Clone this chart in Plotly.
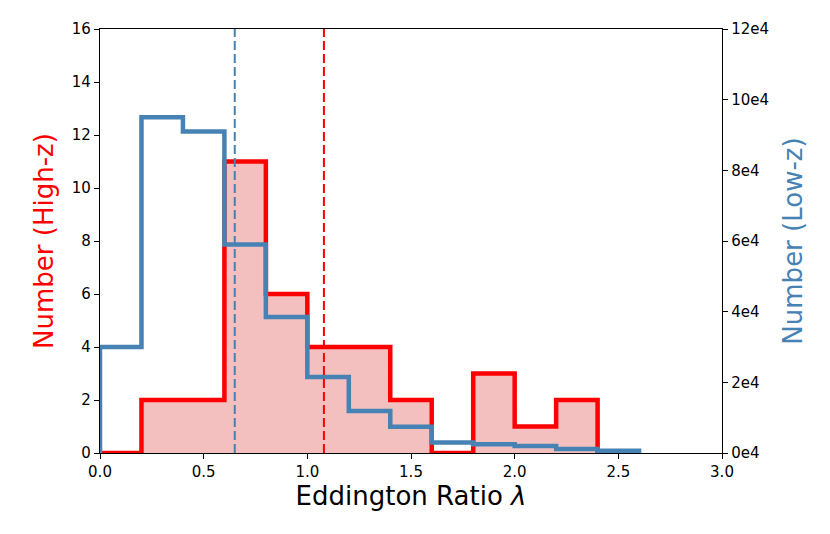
import plotly.graph_objects as go

# Bin edges (Eddington ratio)
edges_high = [0.0, 0.2, 0.4, 0.6, 0.8, 1.0, 1.2, 1.4, 1.6, 1.8, 2.0, 2.2, 2.4]
counts_high = [0, 2, 2, 11, 6, 4, 4, 2, 0, 3, 1, 2]

edges_low = [0.0, 0.2, 0.4, 0.6, 0.8, 1.0, 1.2, 1.4, 1.6, 1.8, 2.0, 2.2, 2.4, 2.6]
counts_low = [30000, 95000, 91000, 59000, 38500, 21500, 11900, 7400, 3000, 2450, 1970, 1120, 650]

mean_low = 0.65
mean_high = 1.08

y_left_ticks = [0, 2, 4, 6, 8, 10, 12, 14, 16]
y_right_tickvals = [0, 20000, 40000, 60000, 80000, 100000, 120000]
y_right_ticktext = ["0e4", "2e4", "4e4", "6e4", "8e4", "10e4", "12e4"]
x_ticks = [0.0, 0.5, 1.0, 1.5, 2.0, 2.5, 3.0]
x_ticktext = ["0.0", "0.5", "1.0", "1.5", "2.0", "2.5", "3.0"]

RED = "#ff0000"
BLUE = "#4682b4"
FONT = "DejaVu Sans"

# step outlines (hv): start at 0, end back at 0
xh = [edges_high[0]] + list(edges_high)
yh = [0] + list(counts_high) + [0]
xl = [edges_low[0]] + list(edges_low)
yl = [0] + list(counts_low) + [0]

fig = go.Figure()
fig.add_trace(go.Scatter(
    x=xh, y=yh, mode="lines", line=dict(shape="hv", color=RED, width=4.5),
    fill="tozeroy", fillcolor="rgba(240,170,170,0.75)", yaxis="y", hoverinfo="skip",
    showlegend=False))
fig.add_trace(go.Scatter(
    x=xl, y=yl, mode="lines", line=dict(shape="hv", color=BLUE, width=4.5),
    yaxis="y2", hoverinfo="skip", showlegend=False))

fig.add_shape(type="line", xref="x", yref="paper", x0=mean_low, x1=mean_low, y0=0, y1=1,
              line=dict(color=BLUE, width=2, dash="9px,4px"), layer="above")
fig.add_shape(type="line", xref="x", yref="paper", x0=mean_high, x1=mean_high, y0=0, y1=1,
              line=dict(color=RED, width=2, dash="9px,4px"), layer="above")

tickfont = dict(family=FONT, size=15, color="black")
fig.update_layout(
    width=822, height=526,
    margin=dict(l=92, r=108, t=18, b=81),
    paper_bgcolor="white", plot_bgcolor="white",
    font=dict(family=FONT),
    xaxis=dict(range=[0, 3.0], tickvals=x_ticks, ticktext=x_ticktext, ticks="outside",
               ticklen=5, tickwidth=1.2, tickcolor="black", showline=True, linecolor="black",
               linewidth=1.3, mirror=True, showgrid=False, zeroline=False, tickfont=tickfont,
               title=dict(text="Eddington Ratio <i>λ</i>", font=dict(family=FONT, size=26, color="black"),
                          standoff=6)),
    yaxis=dict(range=[0, 16], tickvals=y_left_ticks, ticks="outside", ticklen=5, tickwidth=1.2,
               tickcolor="black", showline=True, linecolor="black", linewidth=1.3,
               showgrid=False, zeroline=False, tickfont=tickfont,
               title=dict(text="Number (High-z)", font=dict(family=FONT, size=26, color=RED),
                          standoff=10)),
    yaxis2=dict(range=[0, 120000], tickvals=y_right_tickvals, ticktext=y_right_ticktext,
                overlaying="y", side="right", ticks="outside", ticklen=5, tickwidth=1.2,
                tickcolor="black", showline=True, linecolor="black", linewidth=1.3,
                showgrid=False, zeroline=False, tickfont=tickfont,
                title=dict(text="Number (Low-z)", font=dict(family=FONT, size=26, color=BLUE),
                           standoff=15)),
)

fig.write_html("out.html")
